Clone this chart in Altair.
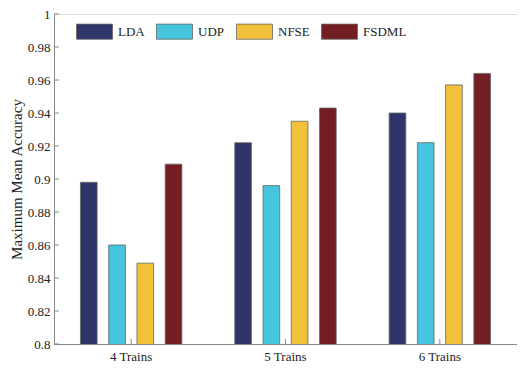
import altair as alt
import pandas as pd

categories = ["4 Trains", "5 Trains", "6 Trains"]
methods = ["LDA", "UDP", "NFSE", "FSDML"]
lda = [0.898, 0.922, 0.940]
udp = [0.860, 0.896, 0.922]
nfse = [0.849, 0.935, 0.957]
fsdml = [0.909, 0.943, 0.964]
colors = ["#2f3469", "#47c4de", "#f1c13b", "#721e23"]
y_ticks = [0.8, 0.82, 0.84, 0.86, 0.88, 0.9, 0.92, 0.94, 0.96, 0.98, 1.0]

series = {"LDA": lda, "UDP": udp, "NFSE": nfse, "FSDML": fsdml}
rows = []
for m in methods:
    for c, v in zip(categories, series[m]):
        rows.append({"group": c, "method": m, "value": v})
df = pd.DataFrame(rows)
tick_df = pd.DataFrame({"value": y_ticks})
cat_df = pd.DataFrame({"group": categories})

W = 463
H = 330
FONT = "Liberation Serif"

x_scale = alt.Scale(domain=categories, paddingInner=0.343, paddingOuter=0.1715)
y_scale = alt.Scale(domain=[0.8, 1.0], nice=False, zero=False)

y_axis = alt.Axis(title="Maximum Mean Accuracy", values=y_ticks, format="~g",
                  ticks=False, labelPadding=4, labelFontSize=13,
                  labelOverlap=False, labelFlush=False,
                  titleFontSize=15, titlePadding=3, domainColor="#888888")

bars = alt.Chart(df).mark_bar(stroke="#666666", strokeWidth=0.8, clip=True).encode(
    x=alt.X("group:N", scale=x_scale, sort=categories,
            axis=alt.Axis(title=None, labelAngle=0, ticks=False, labelPadding=6,
                          labelFontSize=13, domainColor="#888888")),
    xOffset=alt.XOffset("method:N", sort=methods,
                        scale=alt.Scale(paddingInner=0.41, paddingOuter=0)),
    y=alt.Y("value:Q", scale=y_scale, axis=y_axis),
    color=alt.Color("method:N", sort=methods,
                    scale=alt.Scale(domain=methods, range=colors),
                    legend=alt.Legend(title=None, orient="none", legendX=22, legendY=-1,
                                      direction="horizontal", columns=4,
                                      symbolType="M-1,-0.42L1,-0.42L1,0.42L-1,0.42Z",
                                      symbolSize=1296, symbolStrokeColor="#666666",
                                      symbolStrokeWidth=0.8, symbolOpacity=1,
                                      labelFontSize=13, labelOffset=5,
                                      columnPadding=9)),
)

yticks = alt.Chart(tick_df).mark_rule(color="#888888", strokeWidth=1).encode(
    y=alt.Y("value:Q", scale=y_scale, axis=y_axis),
    x=alt.value(0),
    x2=alt.value(5),
)

xticks = alt.Chart(cat_df).mark_rule(color="#888888", strokeWidth=1).encode(
    x=alt.X("group:N", scale=x_scale, sort=categories),
    y=alt.value(H),
    y2=alt.value(H - 5),
)

chart = alt.layer(bars, yticks, xticks).properties(
    width=W,
    height=H,
    autosize=alt.AutoSizeParams(type="none"),
    padding={"left": 46, "top": 6, "right": 0, "bottom": 22},
).configure_view(stroke=None).configure(
    font=FONT,
).configure_axis(
    labelFont=FONT, titleFont=FONT, labelColor="#222222", titleColor="#222222",
    grid=False, titleFontWeight="normal", labelOverlap=False,
).configure_legend(
    labelFont=FONT, labelColor="#222222",
)

chart.save("out.html", embed_options={"renderer": "svg", "actions": False})
